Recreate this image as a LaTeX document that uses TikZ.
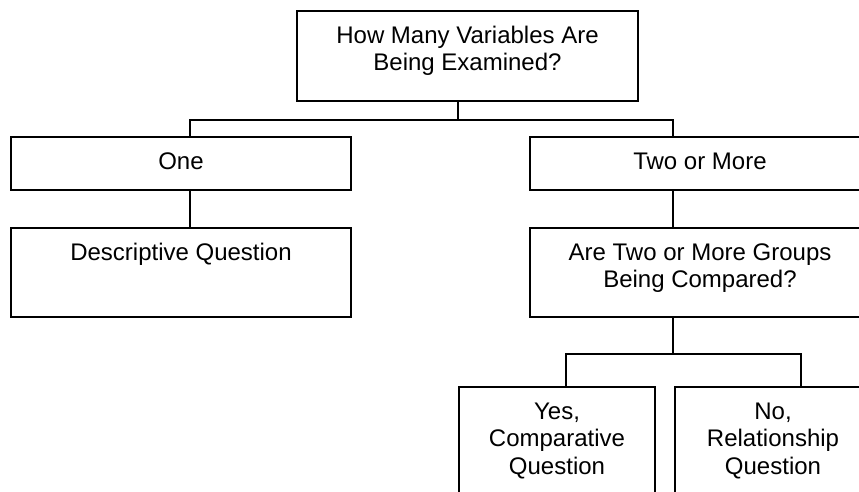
\documentclass[tikz,border=0pt]{standalone}
\usepackage{fontspec}
\setmainfont{Liberation Sans}
\usetikzlibrary{positioning}

\begin{document}
\begin{tikzpicture}[
        x=1pt, y=-1pt,
        node distance=36pt,
        box/.style={rectangle, draw, line width=2pt, inner sep=0pt, anchor=north west, align=center,
            font=\fontsize{24pt}{27.6pt}\selectfont},
        wide/.style={box, minimum width=340pt},
        small/.style={box, minimum width=196pt},
        link/.style={line width=2pt}
        ]
        \useasboundingbox (0,0) rectangle (859,491);
        \clip (0,0) rectangle (859,491);

        % Boxes (text height = first baseline + extra lines)
        \node (count) [box, minimum width=341pt, text height=59.6pt, text depth=30.4pt] at (296,10) {How Many Variables Are\\Being Examined?};
        \node (one)   [wide, text height=32pt, text depth=21pt] at (10,136)  {One};
        \node (more)  [wide, text height=32pt, text depth=21pt] at (529,136) {Two or More};
        \node (desc)  [wide, text height=32pt, text depth=57pt, below=of one]  {Descriptive Question};
        \node (groups)[wide, text height=59.6pt, text depth=29.4pt, below=of more] {Are Two or More Groups\\Being Compared?};
        \node (yes)   [small, text height=87.2pt, text depth=42.8pt] at (458,386) {Yes,\\Comparative\\Question};
        \node (no)    [small, text height=87.2pt, text depth=42.8pt, right=18pt of yes] {No,\\Relationship\\Question};

        % Connectors
        \draw[link] ([xshift=-9.5pt]count.south) -- ++(0,18) -| ([xshift=9pt]one.north);
        \draw[link] ([xshift=-9.5pt]count.south) -- ++(0,18) -| ([xshift=-27pt]more.north);
        \draw[link] ([xshift=9pt]one.south)    -- ([xshift=9pt]desc.north);
        \draw[link] ([xshift=-27pt]more.south) -- ([xshift=-27pt]groups.north);
        \draw[link] ([xshift=-27pt]groups.south) -- ++(0,36) -| ([xshift=9pt]yes.north);
        \draw[link] ([xshift=-27pt]groups.south) -- ++(0,36) -| ([xshift=28pt]no.north);

    \end{tikzpicture}
\end{document}
